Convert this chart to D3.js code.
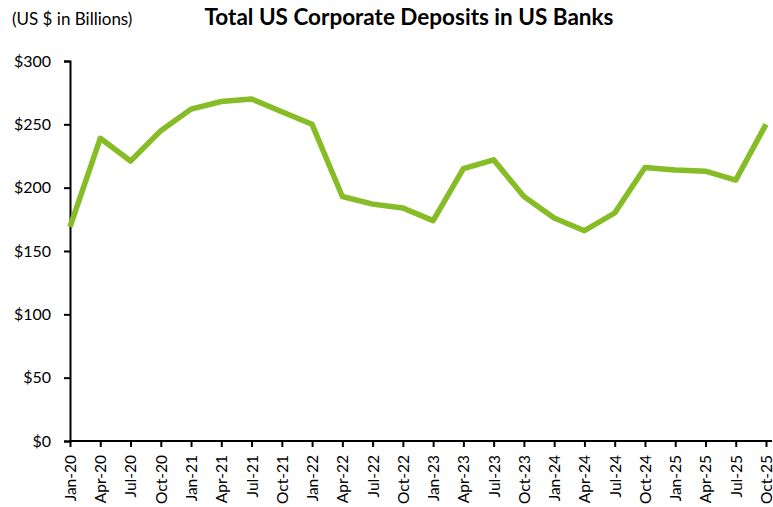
<!DOCTYPE html>
<html>
<head>
<meta charset="utf-8">
<script src="https://cdn.jsdelivr.net/npm/d3@7"></script>
<style>
  html, body { margin: 0; padding: 0; background: #fff; }
  svg { display: block; font-family: Lato, "Open Sans", sans-serif; }
</style>
</head>
<body>
<svg id="chart" width="773" height="507"></svg>
<script>
// Quarterly observation labels
const quarters = [
  "Jan-20","Apr-20","Jul-20","Oct-20",
  "Jan-21","Apr-21","Jul-21","Oct-21",
  "Jan-22","Apr-22","Jul-22","Oct-22",
  "Jan-23","Apr-23","Jul-23","Oct-23",
  "Jan-24","Apr-24","Jul-24","Oct-24",
  "Jan-25","Apr-25","Jul-25","Oct-25"
];

// Total US corporate deposits, US$ billions
const deposits = [
  169, 239, 221, 245,
  262, 268, 270, 260,
  250, 193, 187, 184,
  174, 215, 222, 193,
  176, 166, 180, 216,
  214, 213, 206, 250
];

const yTicks = [0, 50, 100, 150, 200, 250, 300];

const svg = d3.select("#chart");
const plotLeft = 70, plotRight = 766, plotTop = 61, plotBottom = 441;
const fontStack = "Lato, 'Open Sans', sans-serif";

const x = d3.scalePoint().domain(quarters).range([plotLeft, plotRight]);
const y = d3.scaleLinear().domain([0, 300]).range([plotBottom, plotTop]);

// Title and unit note
svg.append("text")
  .attr("x", 409).attr("y", 25)
  .attr("text-anchor", "middle")
  .attr("font-size", 22.5).attr("font-weight", 700)
  .attr("fill", "#000")
  .text("Total US Corporate Deposits in US Banks");

svg.append("text")
  .attr("x", 12).attr("y", 25)
  .attr("font-size", 17)
  .attr("fill", "#000")
  .text("(US $ in Billions)");

// Y axis
const yAxis = svg.append("g")
  .attr("transform", `translate(${plotLeft},0)`)
  .call(d3.axisLeft(y).tickValues(yTicks).tickSize(6).tickPadding(13)
    .tickFormat(d => "$" + d));
yAxis.select(".domain").attr("stroke", "#000").attr("stroke-width", 2);
yAxis.selectAll(".tick line").attr("stroke", "#000").attr("stroke-width", 2);
yAxis.selectAll(".tick text")
  .attr("font-size", 16).attr("fill", "#000")
  .attr("font-family", fontStack);

// X axis
const xAxis = svg.append("g")
  .attr("transform", `translate(0,${plotBottom})`)
  .call(d3.axisBottom(x).tickSize(6).tickPadding(6).tickSizeOuter(0));
xAxis.select(".domain").attr("stroke", "#000").attr("stroke-width", 2)
  .attr("d", `M${plotLeft},0H772`);
xAxis.selectAll(".tick line").attr("stroke", "#000").attr("stroke-width", 2);
xAxis.selectAll(".tick text")
  .attr("font-size", 15.5).attr("fill", "#000")
  .attr("font-family", fontStack)
  .attr("text-anchor", "end")
  .attr("dy", "0.35em")
  .attr("transform", "rotate(-90) translate(-14,0)")
  .attr("x", 0).attr("y", 0);

// Deposit series
const line = d3.line()
  .x((d, i) => x(quarters[i]))
  .y(d => y(d));

svg.append("path")
  .datum(deposits)
  .attr("fill", "none")
  .attr("stroke", "#86bc25")
  .attr("stroke-width", 5.5)
  .attr("stroke-linejoin", "round")
  .attr("d", line);
</script>
</body>
</html>
